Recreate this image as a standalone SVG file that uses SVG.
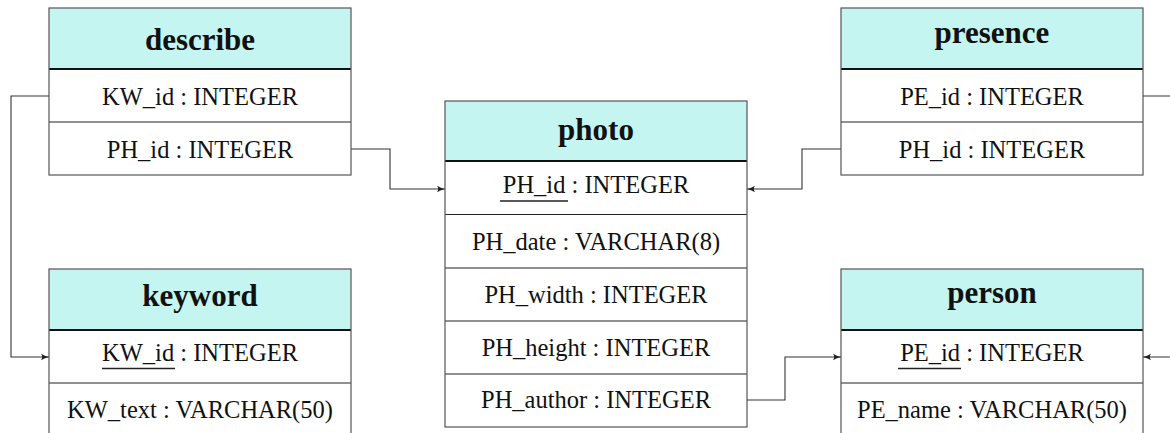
<svg xmlns="http://www.w3.org/2000/svg" width="1170" height="433" viewBox="0 0 1170 433">
<defs>
<style>
.hdr{fill:#c5f5f0}
.body{fill:#ffffff}
.border{fill:none;stroke:#555;stroke-width:1.2}
.div{stroke:#222;stroke-width:1.2}
.hline{stroke:#111;stroke-width:2.2}
.title{font-family:"Liberation Serif",serif;font-weight:bold;font-size:31px;fill:#111;text-anchor:middle}
.attr{font-family:"Liberation Serif",serif;font-size:24.5px;fill:#111;text-anchor:middle}
.ul{stroke:#222;stroke-width:1.3}
.conn{fill:none;stroke:#333;stroke-width:1.1}
</style>
<marker id="arr" viewBox="0 0 10 10" refX="10" refY="5" markerWidth="8" markerHeight="8" orient="auto" markerUnits="userSpaceOnUse">
<path d="M0,1 Q5,4 10,5 Q5,6 0,9 Q3,5 0,1 z" fill="#222"/>
</marker>
</defs>
<rect width="1170" height="433" fill="#ffffff"/>

<g id="connectors">
<path class="conn" d="M49,96 H11 V357 H49" marker-end="url(#arr)"/>
<path class="conn" d="M351,149 H390 V189 H445" marker-end="url(#arr)"/>
<path class="conn" d="M841,149 H802 V189 H747" marker-end="url(#arr)"/>
<path class="conn" d="M747,400 H785 V357 H841" marker-end="url(#arr)"/>
<path class="conn" d="M1143,96 H1190 V357 H1143" marker-end="url(#arr)"/>
</g>

<g id="describe">
<rect class="hdr" x="49" y="8" width="302" height="61"/>
<rect class="body" x="49" y="69" width="302" height="106"/>
<line class="div" x1="49" y1="122" x2="351" y2="122"/>
<line class="hline" x1="49" y1="69" x2="351" y2="69"/>
<rect class="border" x="49" y="8" width="302" height="167"/>
<text class="title" x="200" y="50">describe</text>
<text class="attr" x="200" y="105">KW_id : INTEGER</text>
<text class="attr" x="200" y="158">PH_id : INTEGER</text>
</g>

<g id="keyword">
<rect class="hdr" x="49" y="269" width="302" height="61"/>
<rect class="body" x="49" y="330" width="302" height="106"/>
<line class="div" x1="49" y1="383" x2="351" y2="383"/>
<line class="hline" x1="49" y1="330" x2="351" y2="330"/>
<rect class="border" x="49" y="269" width="302" height="167"/>
<text class="title" x="200" y="306">keyword</text>
<text class="attr" x="200" y="361">KW_id : INTEGER</text>
<line class="ul" x1="102" y1="368.5" x2="175" y2="368.5"/>
<text class="attr" x="200" y="418">KW_text : VARCHAR(50)</text>
</g>

<g id="photo">
<rect class="hdr" x="445" y="101" width="302" height="60"/>
<rect class="body" x="445" y="161" width="302" height="266"/>
<line class="div" x1="445" y1="214.5" x2="747" y2="214.5"/>
<line class="div" x1="445" y1="268" x2="747" y2="268"/>
<line class="div" x1="445" y1="321" x2="747" y2="321"/>
<line class="div" x1="445" y1="374" x2="747" y2="374"/>
<line class="hline" x1="445" y1="161" x2="747" y2="161"/>
<rect class="border" x="445" y="101" width="302" height="326"/>
<text class="title" x="596" y="139.5">photo</text>
<text class="attr" x="596" y="193">PH_id : INTEGER</text>
<line class="ul" x1="500" y1="201" x2="568" y2="201"/>
<text class="attr" x="596" y="250">PH_date : VARCHAR(8)</text>
<text class="attr" x="596" y="303">PH_width : INTEGER</text>
<text class="attr" x="596" y="356">PH_height : INTEGER</text>
<text class="attr" x="596" y="408">PH_author : INTEGER</text>
</g>

<g id="presence">
<rect class="hdr" x="841" y="8" width="302" height="61"/>
<rect class="body" x="841" y="69" width="302" height="106"/>
<line class="div" x1="841" y1="122" x2="1143" y2="122"/>
<line class="hline" x1="841" y1="69" x2="1143" y2="69"/>
<rect class="border" x="841" y="8" width="302" height="167"/>
<text class="title" x="992" y="43">presence</text>
<text class="attr" x="992" y="105">PE_id : INTEGER</text>
<text class="attr" x="992" y="158">PH_id : INTEGER</text>
</g>

<g id="person">
<rect class="hdr" x="841" y="269" width="302" height="61"/>
<rect class="body" x="841" y="330" width="302" height="106"/>
<line class="div" x1="841" y1="383" x2="1143" y2="383"/>
<line class="hline" x1="841" y1="330" x2="1143" y2="330"/>
<rect class="border" x="841" y="269" width="302" height="167"/>
<text class="title" x="992" y="303">person</text>
<text class="attr" x="992" y="361">PE_id : INTEGER</text>
<line class="ul" x1="898" y1="368.5" x2="961" y2="368.5"/>
<text class="attr" x="992" y="418">PE_name : VARCHAR(50)</text>
</g>
</svg>
